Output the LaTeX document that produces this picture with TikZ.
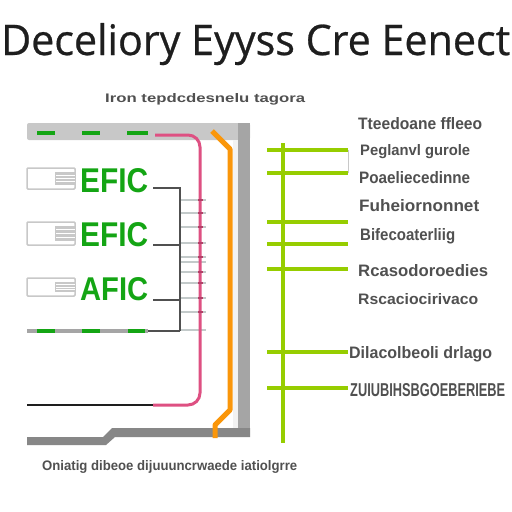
\documentclass[tikz,border=0pt]{standalone}
\usepackage{fontspec}
\setmainfont{Liberation Sans}
\newfontfamily\titlefont[FakeBold=0.6]{Open Sans}
\usepackage{graphicx}
\definecolor{titlec}{RGB}{30,30,30}
\definecolor{labelc}{RGB}{80,80,80}
\definecolor{framelight}{RGB}{200,200,200}
\definecolor{framemid}{RGB}{165,165,165}
\definecolor{framedark}{RGB}{135,135,135}
\definecolor{greenc}{RGB}{20,165,20}
\definecolor{limec}{RGB}{150,205,0}
\definecolor{pinkc}{RGB}{222,80,130}
\definecolor{orangec}{RGB}{250,150,10}
\definecolor{darkc}{RGB}{80,80,80}
\definecolor{tickc}{RGB}{195,202,202}
\tikzset{
  lbl/.style={anchor=base west, inner sep=0, text=labelc, font=\bfseries},
  efic/.style={anchor=base west, inner sep=0, text=greenc},
  lime/.style={draw=limec, line width=4pt},
  tick/.style={draw=tickc, line width=2.5pt},
  brk/.style={draw=darkc, line width=2pt},
  gdash/.style={draw=greenc, line width=3.5pt},
  smallbox/.style={draw=framelight, line width=1.5pt, rounded corners=1pt},
}
\newcommand{\fitw}[3]{\resizebox{#1pt}{#2pt}{#3}}
\begin{document}
\begin{tikzpicture}[x=1pt,y=-1pt]
\useasboundingbox (0,0) rectangle (512,512);
\fill[white] (0,0) rectangle (512,512);

% title and subtitle
\node[anchor=base west, inner sep=0, text=titlec] (title) at (1,55) {\fitw{509}{32}{\titlefont Deceliory Eyyss Cre Eenect}};
\node[lbl] (subtitle) at (105,102) {\fitw{200}{9}{Iron tepdcdesnelu tagora}};

% frame
\fill[framelight, rounded corners=2pt] (27,123) rectangle (250,140);
\fill[framemid] (238,123) rectangle (250,437);
\fill[white!90!gray] (233,140) rectangle (238,428);
\fill[framedark] (27,437) -- (103,437) -- (112,428) -- (250,428) -- (250,437) -- (115,437) -- (106,445) -- (27,445) -- cycle;

% green dashes on top bar
\draw[gdash] (37,133) -- (55,133);
\draw[gdash] (82,133) -- (100,133);
\draw[gdash] (127,133) -- (148,133);

% light ticks
\foreach \yy in {200,213,227,243,257,262,272,283,298,312,330}
  \draw[tick] (180,\yy) -- (206,\yy);

% pink line
\coordinate (pA) at (155,135);
\coordinate (pB) at (153,405);
\draw[pinkc, line width=3pt, rounded corners=12pt] (pA) -- (200,135) -- (200,405) -- (pB);
\foreach \yy in {200,213,227,243,257,272,283,298,312}
  \draw[pinkc!80!black, line width=2.5pt] (198,\yy) -- (203,\yy);

% black line
\coordinate (kA) at (27,405);
\draw[titlec, line width=2.5pt] (kA) -- (pB);

% orange line
\draw[orangec, line width=5pt, line join=round] (212,131) -- (230,149) -- (230,410) -- (215,425) -- (215,438);

% left boxes
\foreach \ya/\yb in {168/189, 222/245, 278/296}{
  \draw[smallbox] (27,\ya) rectangle (75,\yb);
  \fill[framelight] (55,\ya+4) rectangle (75,\yb-4);
  \foreach \k in {1,2,3}
    \draw[white, line width=0.8pt] (56,{\ya+4+\k*(\yb-\ya-8)/4}) -- (75,{\ya+4+\k*(\yb-\ya-8)/4});
}

% EFIC labels
\node[efic] (e1) at (80,192) {\fitw{68}{24}{\bfseries EFIC}};
\node[efic] (e2) at (80,246) {\fitw{68}{24}{\bfseries EFIC}};
\node[efic] (e3) at (80,300) {\fitw{68}{23}{\bfseries AFIC}};

% bracket
\draw[brk] (153,188) -- (180,188) -- (180,331);
\draw[brk] (153,245) -- (180,245);
\draw[brk] (153,300) -- (180,300);

% bottom dashed bar
\draw[framemid, line width=4pt] (27,331) -- (148,331);
\draw[gdash] (37,331) -- (55,331);
\draw[gdash] (82,331) -- (100,331);
\draw[gdash] (128,331) -- (145,331);
\draw[brk] (148,331) -- (180,331);

% right lime tree
\draw[lime] (283,143) -- (283,443);
\foreach \yy in {150,173,222,244,269,352,388}
  \draw[lime] (267,\yy) -- (348,\yy);
\draw[framelight, line width=1pt] (348,150) -- (348,173);

% right labels
\node[lbl] (r1) at (358,129) {\fitw{124}{12}{Tteedoane ffleeo}};
\node[lbl] (r2) at (360,155) {\fitw{110}{11}{Peglanvl gurole}};
\node[lbl] (r3) at (359,183) {\fitw{111}{12}{Poaeliecedinne}};
\node[lbl] (r4) at (359,211) {\fitw{120}{12}{Fuheiornonnet}};
\node[lbl] (r5) at (360,240) {\fitw{95}{12}{Bifecoaterliig}};
\node[lbl] (r6) at (358,276) {\fitw{130}{12}{Rcasodoroedies}};
\node[lbl] (r7) at (358,304) {\fitw{120}{11}{Rscaciocirivaco}};
\node[lbl] (r8) at (349,358) {\fitw{143}{12}{Dilacolbeoli drlago}};
\node[lbl] (r9) at (350,396) {\fitw{155}{13}{ZUIUBIHSBGOEBERIEBE}};

% caption
\node[lbl] (cap) at (42,470) {\fitw{255}{10}{Oniatig dibeoe dijuuuncrwaede iatiolgrre}};
\end{tikzpicture}
\end{document}
